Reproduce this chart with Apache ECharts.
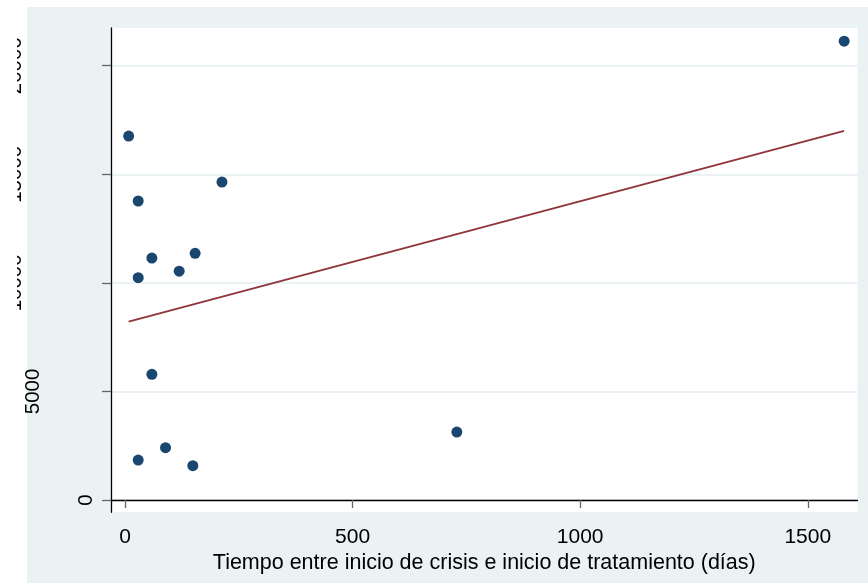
<!DOCTYPE html>
<html>
<head>
<meta charset="utf-8">
<script src="https://cdn.jsdelivr.net/npm/echarts@6/dist/echarts.min.js"></script>
<style>
  html, body { margin: 0; padding: 0; background: #ffffff; }
  #chart { width: 868px; height: 583px; }
</style>
</head>
<body>
<div id="chart"></div>
<script>
// Days between crisis onset and start of treatment, and the measured outcome
var dias = [1580, 8, 213, 29, 59, 154, 29, 119, 59, 729, 89, 29, 149];
var valores = [21130, 16760, 14640, 13770, 11140, 11360, 10240, 10540, 5790, 3130, 2410, 1840, 1580];

var xTicks = [0, 500, 1000, 1500];
var yTicks = [0, 5000, 10000, 15000, 20000];
var xTitulo = 'Tiempo entre inicio de crisis e inicio de tratamiento (días)';

// Ordinary least squares fit, drawn across the observed range of days
function ajusteLineal(xs, ys) {
  var n = xs.length, mx = 0, my = 0;
  for (var i = 0; i < n; i++) { mx += xs[i]; my += ys[i]; }
  mx /= n; my /= n;
  var sxy = 0, sxx = 0;
  for (var j = 0; j < n; j++) {
    sxy += (xs[j] - mx) * (ys[j] - my);
    sxx += (xs[j] - mx) * (xs[j] - mx);
  }
  var b = sxy / sxx, a = my - b * mx;
  var x0 = Math.min.apply(null, xs), x1 = Math.max.apply(null, xs);
  return [[x0, a + b * x0], [x1, a + b * x1]];
}

var puntos = dias.map(function (d, i) { return [d, valores[i]]; });
var recta = ajusteLineal(dias, valores);

var FONT = 'Liberation Sans, Arial, sans-serif';
var Y_MIN = -566, Y_MAX = 21736;
var plain = function (v) { return String(v); };

function yAxisLabels(values, margin) {
  return {
    type: 'value', position: 'left', min: Y_MIN, max: Y_MAX,
    axisLine: { show: false }, axisTick: { show: false }, splitLine: { show: false },
    axisLabel: {
      customValues: values, rotate: 90, margin: margin, formatter: plain,
      fontFamily: FONT, fontSize: 20.5, color: '#000'
    }
  };
}

var chart = echarts.init(document.getElementById('chart'), null, { renderer: 'canvas' });
chart.setOption({
  animation: false,
  backgroundColor: '#ffffff',
  graphic: [
    { type: 'rect', z: -10, silent: true, shape: { x: 27, y: 7, width: 841, height: 576 }, style: { fill: '#EAF2F3' } },
    { type: 'rect', z: 100, silent: true, shape: { x: 0, y: 0, width: 17, height: 583 }, style: { fill: '#ffffff' } }
  ],
  grid: {
    left: 111, right: 10.5, top: 28, bottom: 70.7,
    show: true, backgroundColor: '#ffffff', borderWidth: 0
  },
  xAxis: {
    type: 'value', min: -30.8, max: 1609.3,
    name: xTitulo, nameLocation: 'middle', nameGap: 25,
    nameTextStyle: { fontFamily: FONT, fontSize: 21.5, color: '#000' },
    axisLine: { show: true, lineStyle: { color: '#000', width: 1.3 } },
    axisTick: { show: true, customValues: xTicks, length: 8, lineStyle: { color: '#666', width: 1.3 } },
    splitLine: { show: false },
    axisLabel: { customValues: xTicks, margin: 14, formatter: plain, fontFamily: FONT, fontSize: 21, color: '#000' }
  },
  yAxis: [
    {
      type: 'value', position: 'left', min: Y_MIN, max: Y_MAX,
      axisLine: { show: true, onZero: false, lineStyle: { color: '#000', width: 1.3 } },
      axisTick: { show: true, customValues: yTicks, length: 9, lineStyle: { color: '#666', width: 1.3 } },
      splitLine: { show: true, lineStyle: { color: '#EAF2F3', width: 2 } },
      axisLabel: { customValues: [yTicks[0]], rotate: 90, margin: 14, formatter: plain, fontFamily: FONT, fontSize: 20.5, color: '#000' }
    },
    yAxisLabels([yTicks[1]], 67),
    yAxisLabels(yTicks.slice(2), 85)
  ],
  series: [
    {
      type: 'line', data: recta, yAxisIndex: 0, showSymbol: false, symbol: 'none',
      lineStyle: { color: '#90353B', width: 2 }, z: 2, silent: true
    },
    {
      type: 'scatter', data: puntos, yAxisIndex: 0, symbol: 'circle', symbolSize: 11,
      itemStyle: { color: '#1A476F', opacity: 1 }, z: 3, silent: true
    }
  ]
});
</script>
</body>
</html>
